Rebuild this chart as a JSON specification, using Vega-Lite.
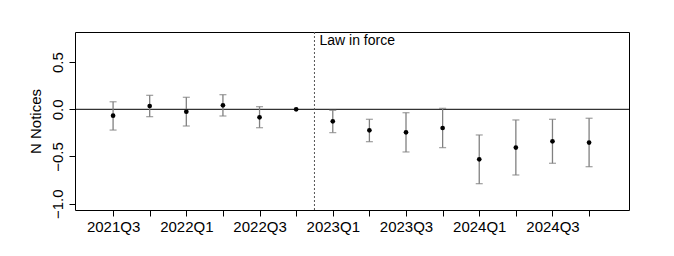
{
  "$schema": "https://vega.github.io/schema/vega-lite/v6.json",
  "autosize": {"type": "none"},
  "padding": {"left": 75, "top": 32, "right": 45, "bottom": 46},
  "width": 554,
  "height": 178,
  "background": "white",
  "config": {
    "view": {"stroke": "black", "strokeWidth": 1},
    "font": "Liberation Sans",
    "axis": {"grid": false, "domain": false, "tickColor": "black", "tickSize": 6, "labelColor": "black", "labelFontSize": 15, "labelFont": "Liberation Sans", "titleFont": "Liberation Sans", "titleFontWeight": "normal", "titleColor": "black"}
  },
  "data": {"values": [
    {"q": 0, "quarter": "2021Q3", "est": -0.068, "lo": -0.22, "hi": 0.08},
    {"q": 1, "quarter": "2021Q4", "est": 0.035, "lo": -0.078, "hi": 0.148},
    {"q": 2, "quarter": "2022Q1", "est": -0.025, "lo": -0.177, "hi": 0.127},
    {"q": 3, "quarter": "2022Q2", "est": 0.042, "lo": -0.071, "hi": 0.155},
    {"q": 4, "quarter": "2022Q3", "est": -0.085, "lo": -0.195, "hi": 0.028},
    {"q": 5, "quarter": "2022Q4", "est": 0.0, "lo": null, "hi": null},
    {"q": 6, "quarter": "2023Q1", "est": -0.127, "lo": -0.247, "hi": -0.011},
    {"q": 7, "quarter": "2023Q2", "est": -0.223, "lo": -0.343, "hi": -0.106},
    {"q": 8, "quarter": "2023Q3", "est": -0.244, "lo": -0.452, "hi": -0.036},
    {"q": 9, "quarter": "2023Q4", "est": -0.198, "lo": -0.406, "hi": 0.01},
    {"q": 10, "quarter": "2024Q1", "est": -0.53, "lo": -0.788, "hi": -0.272},
    {"q": 11, "quarter": "2024Q2", "est": -0.406, "lo": -0.696, "hi": -0.113},
    {"q": 12, "quarter": "2024Q3", "est": -0.339, "lo": -0.572, "hi": -0.106},
    {"q": 13, "quarter": "2024Q4", "est": -0.353, "lo": -0.608, "hi": -0.095}
  ]},
  "encoding": {
    "x": {
      "field": "q", "type": "quantitative",
      "scale": {"domain": [-1.04, 14.09], "nice": false, "zero": false},
      "axis": {
        "title": null,
        "values": [0,1,2,3,4,5,6,7,8,9,10,11,12,13],
        "labelExpr": "datum.value % 2 == 0 ? ['2021Q3','2021Q4','2022Q1','2022Q2','2022Q3','2022Q4','2023Q1','2023Q2','2023Q3','2023Q4','2024Q1','2024Q2','2024Q3','2024Q4'][datum.value] : ''",
        "labelOverlap": false, "labelFlush": false, "labelPadding": 3
      }
    }
  },
  "layer": [
    {
      "transform": [{"filter": "datum.q == 5"}],
      "mark": {"type": "rule", "color": "black", "strokeWidth": 1},
      "encoding": {"y": {"datum": 0, "type": "quantitative"}, "x": null}
    },
    {
      "transform": [{"filter": "datum.q == 5"}],
      "mark": {"type": "rule", "color": "#555555", "strokeWidth": 1, "strokeDash": [2, 2]},
      "encoding": {"x": {"datum": 5.5, "type": "quantitative"}}
    },
    {
      "transform": [{"filter": "datum.q == 5"}],
      "mark": {"type": "text", "text": "Law in force", "align": "left", "baseline": "middle", "dx": 5, "fontSize": 14, "color": "black"},
      "encoding": {"x": {"datum": 5.5, "type": "quantitative"}, "y": {"datum": 0.723, "type": "quantitative"}}
    },
    {
      "transform": [{"filter": "datum.lo != null"}],
      "mark": {"type": "rule", "color": "#808080", "strokeWidth": 1.3},
      "encoding": {"y": {"field": "lo", "type": "quantitative"}, "y2": {"field": "hi"}}
    },
    {
      "transform": [{"filter": "datum.lo != null"}],
      "mark": {"type": "tick", "orient": "horizontal", "color": "#808080", "size": 7, "thickness": 1.3},
      "encoding": {"y": {"field": "lo", "type": "quantitative"}}
    },
    {
      "transform": [{"filter": "datum.hi != null"}],
      "mark": {"type": "tick", "orient": "horizontal", "color": "#808080", "size": 7, "thickness": 1.3},
      "encoding": {"y": {"field": "hi", "type": "quantitative"}}
    },
    {
      "mark": {"type": "circle", "color": "black", "size": 22, "opacity": 1},
      "encoding": {
        "y": {
          "field": "est", "type": "quantitative",
          "scale": {"domain": [-1.067, 0.819], "nice": false, "zero": false},
          "axis": {
            "title": "N Notices", "titleFontSize": 15, "titleAngle": 270, "titleX": -40, "titleY": 89, "titleAlign": "center", "titleBaseline": "middle",
            "values": [-1, -0.5, 0, 0.5], "format": ".1f",
            "labelAngle": 270, "labelAlign": "center", "labelBaseline": "bottom", "labelPadding": 4
          }
        }
      }
    }
  ],
  "resolve": {"scale": {"y": "shared"}}
}
